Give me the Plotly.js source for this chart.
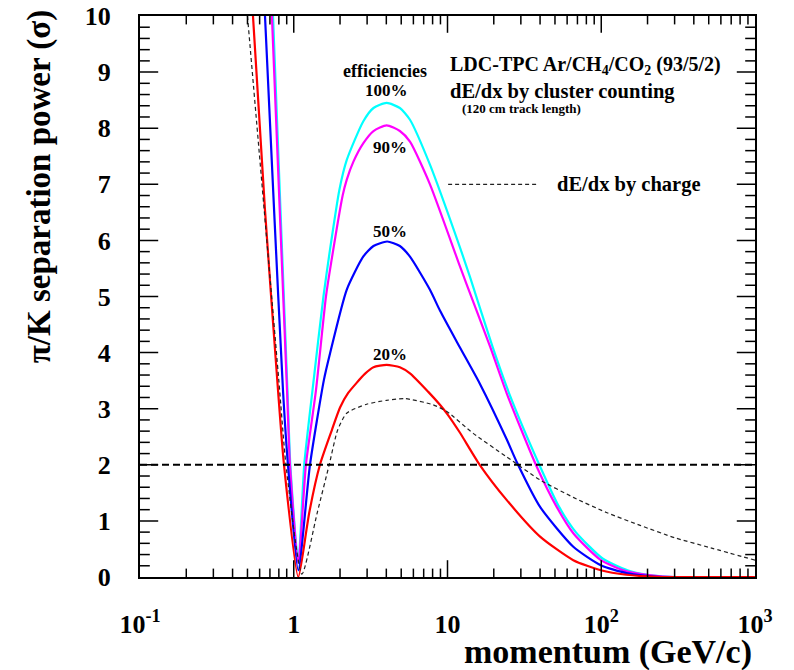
<!DOCTYPE html>
<html>
<head>
<meta charset="utf-8">
<script src="https://cdn.plot.ly/plotly-3.0.1.min.js"></script>
<style>
  html, body { margin: 0; padding: 0; background: #fff; }
  #plot { width: 794px; height: 670px; }
</style>
</head>
<body>
<div id="plot"></div>
<script>
// momentum (GeV/c) and pi/K separation power (sigma)
const eff100X = [0.733, 0.91, 0.95, 1.07, 1.17, 1.34, 1.56, 1.72, 1.98, 2.21, 2.83, 3.3, 4.02, 4.9, 5.70, 7.69, 12.0, 14.0, 19.6, 25.2, 40.0, 53.2, 68.3, 102, 148, 200, 300, 1000];
const eff100Y = [10, 3.33, 2.0, 0.25, 2.0, 3.45, 5.0, 5.83, 6.90, 7.43, 8.12, 8.36, 8.45, 8.36, 8.15, 7.35, 5.89, 5.35, 4.11, 3.27, 1.97, 1.25, 0.80, 0.33, 0.12, 0.04, 0.0, 0.0];

const eff90X = [0.721, 0.904, 0.945, 1.07, 1.20, 1.395, 1.62, 1.75, 2.08, 2.21, 2.44, 2.83, 3.3, 4.02, 4.9, 5.70, 7.69, 12.0, 13.3, 18.9, 24.3, 38.0, 51.3, 65.8, 99.5, 146, 197, 300, 1000];
const eff90Y = [10, 3.33, 2.0, 0.25, 2.0, 3.33, 5.0, 5.6, 6.80, 7.08, 7.40, 7.73, 7.95, 8.05, 7.95, 7.76, 7.0, 5.55, 5.22, 4.11, 3.27, 1.97, 1.25, 0.78, 0.30, 0.10, 0.04, 0.0, 0.0];

const eff50X = [0.650, 0.745, 0.851, 0.917, 1.07, 1.275, 1.57, 1.72, 2.21, 2.83, 3.3, 4.05, 4.9, 5.70, 7.69, 8.93, 12.0, 16.2, 24.3, 28.2, 40.0, 65.8, 99.5, 146, 250, 1000];
const eff50Y = [10, 6.54, 3.33, 2.0, 0.12, 2.0, 3.51, 3.98, 5.12, 5.71, 5.90, 5.98, 5.90, 5.71, 5.12, 4.75, 4.10, 3.45, 2.45, 2.05, 1.25, 0.54, 0.21, 0.07, 0.0, 0.0];

const eff20X = [0.543, 0.65, 0.79, 0.864, 1.07, 1.21, 1.26, 1.48, 1.77, 2.0, 2.26, 2.9, 3.3, 4.02, 4.9, 5.70, 7.5, 8.93, 10.0, 12.0, 16.2, 24.3, 40.0, 65.8, 99.5, 146, 250, 1000];
const eff20Y = [10, 6.54, 3.33, 2.0, 0.0, 0.84, 1.14, 2.0, 2.62, 3.02, 3.28, 3.62, 3.74, 3.78, 3.74, 3.63, 3.30, 3.07, 2.90, 2.58, 2.0, 1.37, 0.72, 0.30, 0.12, 0.04, 0.0, 0.0];

const chargeX = [0.50, 0.80, 0.89, 1.13, 1.42, 1.70, 1.93, 2.21, 2.98, 4.02, 5.29, 8.07, 9.9, 14.7, 24.3, 40.0, 65.8, 108, 179, 300, 515, 1000];
const chargeY = [10, 3.5, 2.0, 0.05, 1.14, 2.0, 2.62, 2.92, 3.08, 3.15, 3.18, 3.07, 2.95, 2.56, 2.14, 1.73, 1.42, 1.15, 0.92, 0.70, 0.52, 0.30];

const threshold = 2;

const xTickVals = [0.1, 1, 10, 100, 1000];
const xTickText = ['10<sup>-1</sup>', '1', '10', '10<sup>2</sup>', '10<sup>3</sup>'];
const xRange = [0.1, 1000];
const yRange = [0, 10];

const serif = 'Liberation Serif, Times New Roman, serif';

function curve(x, y, color, width, dash) {
  return {
    x: x, y: y, type: 'scatter', mode: 'lines',
    line: {color: color, width: width, dash: dash || 'solid', shape: 'spline', smoothing: 0.6},
    hoverinfo: 'skip', showlegend: false
  };
}

/**
 * Inward frame ticks, ROOT style, made of line markers sitting on the frame.
 * Half of each marker falls outside the plot area and is clipped away.
 */
function tickMarks(x, y, symbol, len) {
  return {
    x: x, y: y, type: 'scatter', mode: 'markers', cliponaxis: true,
    marker: {symbol: symbol, size: 2 * len, color: '#000', line: {color: '#000', width: 1.5}},
    hoverinfo: 'skip', showlegend: false
  };
}

function frameTicks() {
  const yMajor = [], yMinor = [];
  for (let i = 1; i < 50; i++) {
    const v = yRange[0] + i * 0.2;
    (i % 5 === 0 ? yMajor : yMinor).push(v);
  }
  const xMajor = [], xMinor = [];
  for (let d = xRange[0]; d < xRange[1]; d *= 10) {
    for (let k = 1; k <= 9; k++) {
      if (d === xRange[0] && k === 1) continue;
      (k === 1 ? xMajor : xMinor).push(k * d);
    }
  }
  const edgeX = v => v.map(() => xRange[0]).concat(v.map(() => xRange[1]));
  const edgeY = v => v.map(() => yRange[0]).concat(v.map(() => yRange[1]));
  return [
    tickMarks(edgeX(yMajor), yMajor.concat(yMajor), 'line-ew-open', 13),
    tickMarks(edgeX(yMinor), yMinor.concat(yMinor), 'line-ew-open', 7),
    tickMarks(xMajor.concat(xMajor), edgeY(xMajor), 'line-ns-open', 12),
    tickMarks(xMinor.concat(xMinor), edgeY(xMinor), 'line-ns-open', 6)
  ];
}

const data = [
  curve(eff100X, eff100Y, '#00ffff', 2.2),
  curve(eff90X, eff90Y, '#ff00ff', 2.2),
  curve(eff50X, eff50Y, '#0000ff', 2.2),
  curve(eff20X, eff20Y, '#ff0000', 2.2),
  curve(chargeX, chargeY, '#222222', 1.2, '4px,3px')
].concat(frameTicks());

function label(text, x, y, size, anchor) {
  return {
    text: text, xref: 'paper', yref: 'paper', x: x, y: y,
    xanchor: anchor || 'center', yanchor: 'middle', showarrow: false,
    font: {family: serif, size: size, color: '#000', weight: 'bold'}
  };
}

const layout = {
  width: 794, height: 670,
  margin: {l: 140, r: 39, t: 16, b: 93},
  paper_bgcolor: '#fff', plot_bgcolor: '#fff',
  xaxis: {
    type: 'log', range: [-1, 3],
    tickmode: 'array', tickvals: xTickVals, ticktext: xTickText,
    ticks: '', mirror: true, showline: true, linewidth: 2, linecolor: '#000',
    showgrid: false, zeroline: false,
    tickfont: {family: serif, size: 26, color: '#000', weight: 'bold'},
    ticklabelstandoff: 23
  },
  yaxis: {
    range: yRange, dtick: 1,
    ticks: '', mirror: true, showline: true, linewidth: 2, linecolor: '#000',
    showgrid: false, zeroline: false,
    tickfont: {family: serif, size: 26, color: '#000', weight: 'bold'},
    ticklabelstandoff: 22
  },
  shapes: [
    {type: 'line', xref: 'paper', yref: 'y', x0: 0, x1: 1, y0: threshold, y1: threshold,
     line: {color: '#000', width: 2, dash: '7px,4px'}},
    {type: 'line', xref: 'paper', yref: 'paper', x0: 0.501, x1: 0.647, y0: 0.700, y1: 0.700,
     line: {color: '#222', width: 1.2, dash: '4px,3px'}}
  ],
  annotations: [
    label('\u03c0/K separation power (\u03c3)', -0.164, 0.695, 33),
    label('momentum (GeV/c)', 0.998, -0.134, 34, 'right'),
    label('efficiencies', 0.398, 0.902, 18),
    label('100%', 0.400, 0.867, 17),
    label('90%', 0.407, 0.765, 17),
    label('50%', 0.407, 0.615, 17),
    label('20%', 0.407, 0.396, 17),
    label('LDC-TPC Ar/CH<sub>4</sub>/CO<sub>2</sub> (93/5/2)', 0.501, 0.911, 20, 'left'),
    label('dE/dx by cluster counting', 0.501, 0.866, 20.5, 'left'),
    label('(120 cm track length)', 0.520, 0.835, 13, 'left'),
    label('dE/dx by charge', 0.675, 0.700, 20.5, 'left')
  ]
};
layout.annotations[0].textangle = -90;

Plotly.newPlot('plot', data, layout, {displayModeBar: false, staticPlot: true});
</script>
</body>
</html>
